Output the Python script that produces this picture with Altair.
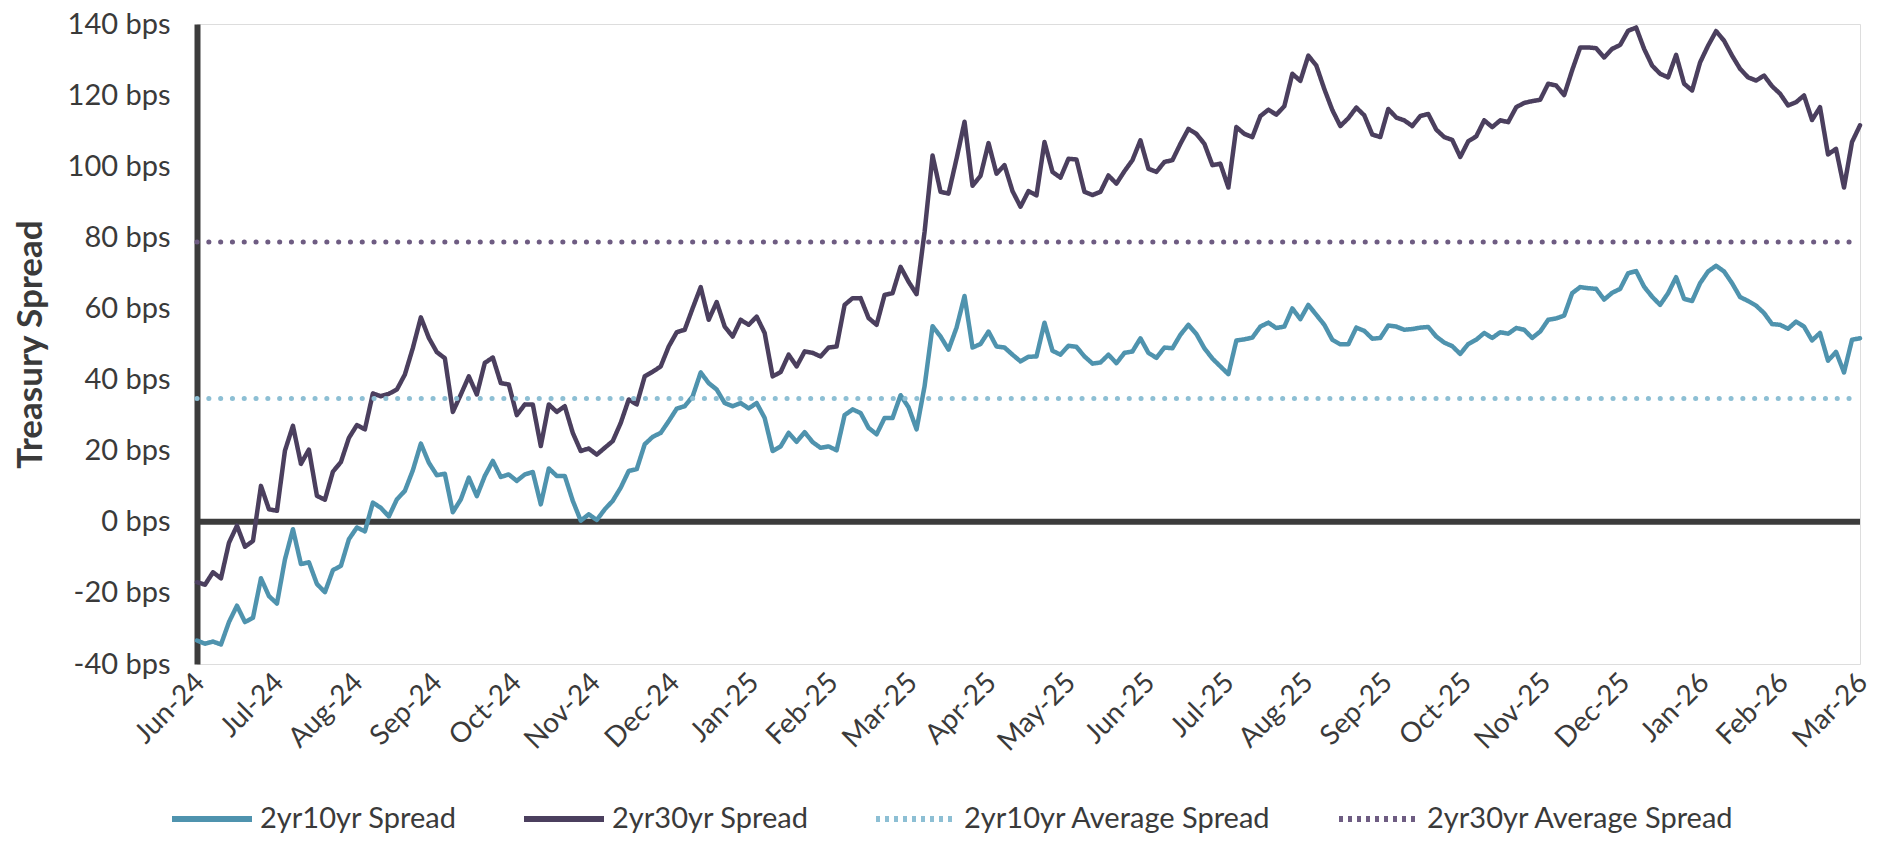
import altair as alt
import numpy as np
import pandas as pd

FONT = "Lato"
TEXT = "#3a3a3a"

months = ["Jun-24", "Jul-24", "Aug-24", "Sep-24", "Oct-24", "Nov-24", "Dec-24",
          "Jan-25", "Feb-25", "Mar-25", "Apr-25", "May-25", "Jun-25", "Jul-25",
          "Aug-25", "Sep-25", "Oct-25", "Nov-25", "Dec-25", "Jan-26", "Feb-26", "Mar-26"]

spread_2s10s = [
    -33.4, -34.3, -33.7, -34.5, -28.2, -23.6, -28.2, -27.0, -15.9, -20.9,
    -23.0, -10.6, -2.1, -11.9, -11.4, -17.5, -19.8, -13.6, -12.4, -4.9,
    -1.6, -2.7, 5.4, 3.9, 1.5, 6.3, 8.7, 14.5, 22.0, 16.6,
    13.1, 13.5, 2.7, 6.3, 12.4, 7.2, 12.9, 17.1, 12.6, 13.3,
    11.5, 13.3, 14.0, 4.9, 15.0, 12.9, 12.9, 5.9, 0.3, 2.1,
    0.5, 3.5, 5.9, 9.6, 14.3, 14.8, 21.8, 23.9, 25.0, 28.3,
    31.8, 32.5, 35.3, 42.0, 39.0, 37.2, 33.4, 32.5, 33.4, 31.9,
    33.4, 29.2, 19.9, 21.2, 25.0, 22.5, 25.2, 22.4, 20.8, 21.2,
    20.1, 30.0, 31.6, 30.6, 26.4, 24.6, 29.2, 29.2, 35.6, 32.2,
    26.0, 38.1, 55.0, 52.1, 48.4, 54.6, 63.5, 49.0, 50.0, 53.5,
    49.3, 49.0, 47.0, 45.1, 46.4, 46.5, 56.0, 48.1, 47.0, 49.5,
    49.2, 46.5, 44.5, 44.8, 47.0, 44.6, 47.5, 47.9, 51.6, 47.5,
    46.1, 49.0, 48.8, 52.6, 55.4, 52.8, 48.8, 45.9, 43.7, 41.5,
    51.0, 51.3, 51.8, 54.9, 56.0, 54.5, 54.9, 60.0, 57.0, 61.0,
    58.2, 55.4, 51.2, 49.9, 49.9, 54.6, 53.7, 51.5, 51.7, 55.2,
    54.9, 54.0, 54.2, 54.6, 54.8, 52.1, 50.4, 49.4, 47.2, 50.0,
    51.2, 53.1, 51.7, 53.3, 52.9, 54.5, 54.0, 51.7, 53.5, 56.8,
    57.2, 58.0, 64.3, 66.0, 65.7, 65.5, 62.5, 64.4, 65.5, 69.9,
    70.5, 66.1, 63.3, 61.0, 64.3, 68.8, 62.7, 62.1, 67.1, 70.4,
    72.0, 70.4, 67.1, 63.2, 62.1, 60.8, 58.7, 55.6, 55.4, 54.3,
    56.3, 54.9, 51.0, 53.1, 45.3, 47.8, 42.0, 51.2, 51.6,
]

spread_2s30s = [
    -17.0, -17.7, -14.2, -15.9, -5.9, -1.1, -7.0, -5.4, 10.1, 3.5,
    3.1, 20.0, 27.0, 16.3, 20.3, 7.3, 6.2, 14.1, 16.8, 23.6,
    27.2, 26.0, 36.1, 35.3, 36.0, 37.2, 41.4, 48.9, 57.5, 51.7,
    47.7, 46.0, 30.9, 35.8, 40.9, 35.8, 44.7, 46.2, 39.0, 38.6,
    30.0, 33.0, 33.0, 21.3, 33.0, 30.9, 32.5, 25.0, 19.9, 20.6,
    18.9, 20.8, 22.7, 27.8, 34.4, 33.0, 40.9, 42.2, 43.7, 49.3,
    53.3, 54.0, 60.1, 66.0, 56.8, 61.8, 54.9, 52.1, 56.8, 55.4,
    57.7, 53.1, 40.9, 42.1, 47.0, 43.7, 47.9, 47.5, 46.5, 49.0,
    49.3, 61.0, 62.9, 62.9, 57.3, 55.4, 63.8, 64.3, 71.7, 67.5,
    64.0, 81.5, 103.0, 92.8, 92.3, 102.1, 112.5, 94.5, 97.3, 106.5,
    97.9, 100.3, 93.0, 88.6, 93.0, 91.8, 106.8, 98.4, 96.8, 102.1,
    101.9, 92.8, 91.9, 92.8, 97.4, 95.1, 98.6, 101.7, 107.3, 99.3,
    98.4, 101.2, 101.7, 106.3, 110.5, 109.1, 106.3, 100.3, 100.7, 94.0,
    111.0, 109.1, 108.2, 114.1, 115.9, 114.5, 116.9, 126.0, 124.0, 131.1,
    128.3, 121.7, 115.8, 111.3, 113.5, 116.5, 114.3, 108.9, 108.2, 116.1,
    113.7, 112.9, 111.3, 114.1, 114.7, 110.3, 108.2, 107.4, 102.6, 107.0,
    108.4, 112.9, 111.0, 112.9, 112.4, 116.6, 117.8, 118.3, 118.7, 123.2,
    122.7, 120.0, 127.0, 133.4, 133.4, 133.2, 130.6, 133.0, 134.1, 138.1,
    139.0, 133.0, 128.3, 126.0, 125.0, 131.3, 123.2, 121.3, 129.2, 133.9,
    138.0, 135.3, 131.1, 127.4, 125.0, 124.1, 125.5, 122.5, 120.4, 117.1,
    118.0, 119.9, 113.0, 116.6, 103.3, 104.9, 94.0, 106.8, 111.5,
]

avg_2s10s = 34.7
avg_2s30s = 78.7

series_names = ["2yr10yr Spread", "2yr30yr Spread",
                "2yr10yr Average Spread", "2yr30yr Average Spread"]
series_colors = ["#4F93AE", "#4B3F5E", "#8DBFD4", "#6E5C82"]
legend_dashes = [[1, 0], [1, 0], [4, 5], [4, 5]]
y_ticks = [-40, -20, 0, 20, 40, 60, 80, 100, 120, 140]

last_month = len(months) - 1
t = np.linspace(0, last_month, len(spread_2s10s))
lines_df = pd.concat([
    pd.DataFrame({"t": t, "bps": spread_2s10s, "series": series_names[0]}),
    pd.DataFrame({"t": t, "bps": spread_2s30s, "series": series_names[1]}),
], ignore_index=True)
avg_df = pd.DataFrame({
    "t": [0, last_month, 0, last_month],
    "bps": [avg_2s10s, avg_2s10s, avg_2s30s, avg_2s30s],
    "series": [series_names[2]] * 2 + [series_names[3]] * 2,
})

month_js = "[" + ",".join("'" + m + "'" for m in months) + "]"

x_enc = alt.X(
    "t:Q",
    scale=alt.Scale(domain=[0, last_month], nice=False, zero=False),
    axis=alt.Axis(
        values=list(range(len(months))), labelExpr=month_js + "[datum.value]",
        title=None, labelAngle=-45, labelAlign="right", labelBaseline="middle",
        labelFont=FONT, labelFontSize=28, labelColor=TEXT, labelPadding=14,
        labelOffset=3,
        domain=False, ticks=False, tickSize=0, grid=False, labelOverlap=False,
    ),
)
y_enc = alt.Y(
    "bps:Q",
    scale=alt.Scale(domain=[-40, 140], nice=False, zero=False),
    axis=alt.Axis(
        values=y_ticks, labelExpr="datum.value + ' bps'",
        title="Treasury Spread", titleFont=FONT, titleFontSize=35,
        titleFontWeight="bold", titleColor=TEXT, titleX=-167,
        titleBaseline="middle", titleAngle=-90,
        labelFont=FONT, labelFontSize=29, labelColor=TEXT, labelPadding=27,
        domain=True, domainColor="#3c3c3c", domainWidth=6,
        ticks=False, tickSize=0, grid=False, labelOverlap=False,
    ),
)

legend = alt.Legend(
    title=None, orient="none", legendX=-28, legendY=752, direction="horizontal",
    symbolType="stroke", symbolSize=6400, symbolStrokeWidth=6,
    labelFont=FONT, labelFontSize=29, labelColor=TEXT, labelOffset=5,
    labelLimit=600, columnPadding=55, padding=0,
)
color_enc = alt.Color("series:N",
                      scale=alt.Scale(domain=series_names, range=series_colors),
                      legend=legend)
dash_enc = alt.StrokeDash("series:N",
                          scale=alt.Scale(domain=series_names, range=legend_dashes),
                          legend=legend)

zero_rule = alt.Chart(pd.DataFrame({"bps": [0]})).mark_rule(
    color="#3c3c3c", strokeWidth=6
).encode(y=alt.Y("bps:Q"))

lines = alt.Chart(lines_df).mark_line(
    strokeWidth=4.5, strokeJoin="round", strokeCap="round"
).encode(x=x_enc, y=y_enc, color=color_enc, strokeDash=dash_enc)

avgs = alt.Chart(avg_df).mark_line(
    strokeWidth=5, strokeCap="round"
).encode(x=x_enc, y=y_enc, color=color_enc,
         strokeDash=alt.value([0.1, 11.7]))

chart = alt.layer(zero_rule, lines, avgs).properties(
    width=1663, height=640,
    padding={"left": 189, "top": 16, "right": 13, "bottom": 171},
    autosize=alt.AutoSizeParams(type="none"),
).configure_view(stroke=None).configure(background="white")

chart.save("out.html", embed_options={"renderer": "svg", "actions": False})
